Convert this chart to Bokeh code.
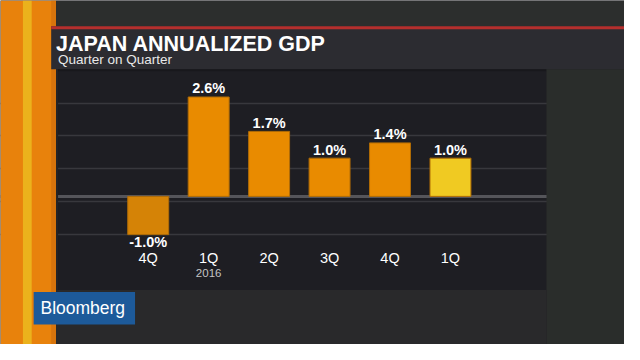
from bokeh.plotting import figure
from bokeh.models import Range1d, Grid, FixedTicker
from bokeh.core.properties import value
from bokeh.embed import file_html
from bokeh.resources import INLINE

# ---- data ----
quarters = ["4Q", "1Q", "2Q", "3Q", "4Q", "1Q"]
years = ["", "2016", "", "", "", ""]
gdp = [-1.0, 2.6, 1.7, 1.0, 1.4, 1.0]
labels = ["-1.0%", "2.6%", "1.7%", "1.0%", "1.4%", "1.0%"]
grid_ticks = [-1.0, -0.14, 0.72, 1.58, 2.44]
title = "JAPAN ANNUALIZED GDP"
subtitle = "Quarter on Quarter"

W, H = 624, 344
SX, SY = W / 640.0, H / 360.0   # reference layout (640x360) scaled into the figure
PANEL = "#1e1e23"
FONT = value("Liberation Sans")

# bar layout: first bar centre at 151.5px, 62px step, zero line at 205px, 40px per unit
step = 62 * SX
x0 = 151.5 * SX
unit = 40 * SY
zero = 205 * SY
xs = list(range(len(gdp)))
p = figure(width=W, height=H, output_backend="svg", toolbar_location=None,
           x_range=Range1d(-x0 / step, (W - x0) / step),
           y_range=Range1d(-(H - zero) / unit, zero / unit),
           x_axis_type=None, y_axis_type=None, min_border=0,
           background_fill_color=PANEL, border_fill_color=PANEL,
           outline_line_color=None)
p.extra_x_ranges = {"px": Range1d(0, 640)}
p.extra_y_ranges = {"px": Range1d(360, 0)}

# gridlines (underlay) and zero line
p.add_layout(Grid(dimension=1, ticker=FixedTicker(ticks=grid_ticks),
                  grid_line_color="#38383d", grid_line_width=1.5))
p.add_layout(Grid(dimension=1, ticker=FixedTicker(ticks=[0]),
                  grid_line_color="#55555a", grid_line_width=3))

# ---- frame decoration (layout in reference pixels) ----
def box(l, r, t, b, c):
    p.quad(left=l, right=r, top=t, bottom=b, fill_color=c, line_color=None,
           x_range_name="px", y_range_name="px")

box(0, 57, 0, 360, "#e8820c")
box(23, 32, 0, 360, "#ebb21c")
box(52, 57, 0, 360, "#d7740c")
box(57, 640, 0, 27, "#2c2e2d")
box(52, 640, 27, 72, "#2c2c31")
box(52, 640, 27, 30, "#b52f2d")
box(57, 59, 72, 303, "#232326")
box(59, 560, 72, 74, "#18181c")
box(560, 640, 72, 360, "#2a2d2b")
box(57, 560, 303, 360, "#29292b")
box(34, 138, 305, 339, "#1d5a9a")

# ---- bars ----
colors = ["#d58306", "#e98b00", "#e98b00", "#e98b00", "#e98b00", "#f0ca22"]
p.vbar(x=xs, top=gdp, bottom=0, width=42 / 62, fill_color=colors,
       line_color="#b06c06", line_width=1)

# value labels (cap centre 9px above positive bars, 7.5px below negative bars)
pos_x = [x for x, v in zip(xs, gdp) if v >= 0]
pos_y = [v + 9 / 40 for v in gdp if v >= 0]
pos_t = [t for t, v in zip(labels, gdp) if v >= 0]
neg_x = [x for x, v in zip(xs, gdp) if v < 0]
neg_y = [v - 7.5 / 40 for v in gdp if v < 0]
neg_t = [t for t, v in zip(labels, gdp) if v < 0]
for tx, ty, tt in ((pos_x, pos_y, pos_t), (neg_x, neg_y, neg_t)):
    p.text(x=tx, y=ty, text=tt, text_align="center", text_baseline="middle",
           text_font=FONT, text_font_style="bold", text_font_size="14.5px",
           text_color="white")

# category labels
p.text(x=xs, y=[269] * len(xs), text=quarters, y_range_name="px",
       text_align="center", text_baseline="middle",
       text_font=FONT, text_font_size="14.5px", text_color="white")
p.text(x=xs, y=[285.5] * len(xs), text=years, y_range_name="px",
       text_align="center", text_baseline="middle",
       text_font=FONT, text_font_size="11.5px", text_color="#c4c4c4")

# titles
p.text(x=[57], y=[45], text=[title], x_range_name="px", y_range_name="px",
       text_baseline="middle", text_font=FONT, text_font_style="bold",
       text_font_size="21.5px", text_color="white")
p.text(x=[59], y=[62], text=[subtitle], x_range_name="px", y_range_name="px",
       text_baseline="middle", text_font=FONT,
       text_font_size="13.5px", text_color="#e8e8e8")
p.text(x=[41], y=[322], text=["Bloomberg"], x_range_name="px", y_range_name="px",
       text_baseline="middle", text_font=FONT,
       text_font_size="17.5px", text_color="white")

open("out.html", "w").write(file_html(p, INLINE))
